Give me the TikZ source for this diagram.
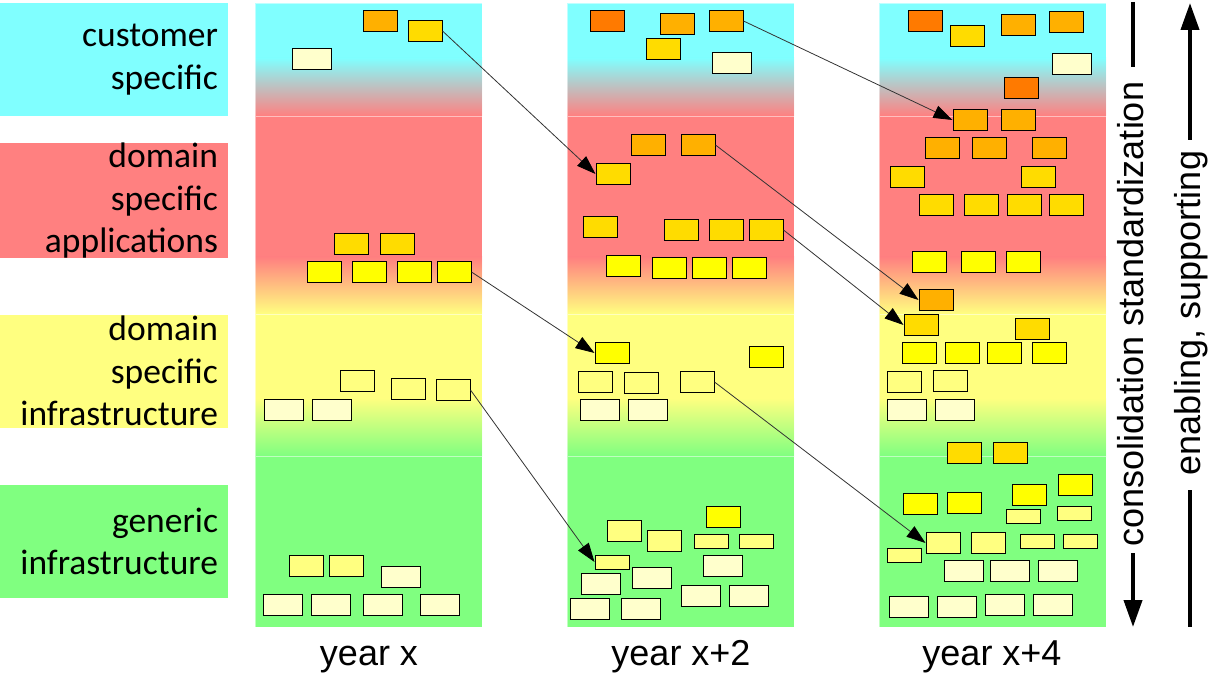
\documentclass[tikz,border=0pt]{standalone}
\usepackage{fontspec}
\setmainfont{Carlito}
\newfontfamily\arialfont{Liberation Sans}
\usepackage{tikz}
\usetikzlibrary{calc,positioning,arrows.meta}
\definecolor{cyanbg}{RGB}{128,255,255}
\definecolor{redbg}{RGB}{255,128,128}
\definecolor{yellowbg}{RGB}{255,255,128}
\definecolor{greenbg}{RGB}{128,255,128}
\definecolor{darkorng}{RGB}{255,122,0}
\definecolor{orng}{RGB}{255,176,0}
\definecolor{goldy}{RGB}{255,220,0}
\definecolor{yell}{RGB}{255,255,0}
\definecolor{lightyell}{RGB}{255,255,128}
\definecolor{paleyell}{RGB}{255,255,204}

\begin{document}
\begin{tikzpicture}[x=1pt,y=-1pt,
		lane/.style={inner xsep=10pt,inner ysep=0pt,text width=208pt,align=right,minimum height=113pt,font=\fontsize{35.5}{42.5}\selectfont},
		app/.style={draw,line width=1pt,inner sep=0pt,minimum width=34pt,minimum height=21pt},
		boxdo/.style={app,fill=darkorng},
		boxor/.style={app,fill=orng},
		boxgd/.style={app,fill=goldy},
		boxye/.style={app,fill=yell},
		boxly/.style={app,fill=lightyell},
		boxsl/.style={app,fill=lightyell,minimum height=14pt},
		boxpl/.style={app,fill=paleyell,minimum width=39pt},
		sep/.style={draw=white,draw opacity=0.5,line width=0.8pt},
		move/.style={draw=black!80,line width=0.8pt,-{Triangle[length=19pt,width=13pt,black]}},
		bar/.style={line width=4pt},
		side/.style={font=\arialfont\fontsize{36}{43}\selectfont,inner sep=0pt}]
	\useasboundingbox (0,0) rectangle (1212,676);
	% layer labels
	\node(cust) [lane,fill=cyanbg] at (114,59.5) {customer\\specific};
	\node(dapp) [lane,fill=redbg] at (114,200.7) {domain\\specific\\applications};
	\node(dinf) [lane,fill=yellowbg] at (114,371) {domain\\specific\\infrastructure};
	\node(ginf) [lane,fill=greenbg] at (114,541.3) {generic\\infrastructure};
	% year columns
	\foreach \cx in {255,567,879}{
		\fill[cyanbg] (\cx,3) rectangle ++(227,56);
		\shade[top color=cyanbg,bottom color=redbg] (\cx,58) rectangle ++(227,58);
		\fill[redbg] (\cx,116) rectangle ++(227,142);
		\shade[top color=redbg,bottom color=yellowbg] (\cx,257) rectangle ++(227,57);
		\fill[yellowbg] (\cx,314) rectangle ++(227,85);
		\shade[top color=yellowbg,bottom color=greenbg] (\cx,398) rectangle ++(227,58);
		\fill[greenbg] (\cx,456) rectangle ++(227,171);
		\draw[sep] (\cx,3) rectangle ++(227,113) (\cx,116) rectangle ++(227,198)
		           (\cx,314) rectangle ++(227,142) (\cx,456) rectangle ++(227,171);
	}
	% year x
	\foreach \s/\x/\y [count=\i] in {boxor/380/21,boxgd/425/31,boxpl/312/59,
			boxgd/351/244,boxgd/397/244,boxye/324/272,boxye/369/272,boxye/414/272,boxye/454/272,
			boxly/357/381,boxly/408/389,boxly/453/390,boxpl/284/410,boxpl/332/410,
			boxly/306/566,boxly/346/566,boxpl/401/577,boxpl/283/605,boxpl/331/605,boxpl/383/605,boxpl/440/605}
		\node(a\i) [\s] at (\x,\y) {};
	% year x+2
	\foreach \s/\x/\y [count=\i] in {boxdo/607/21,boxor/677/24,boxor/726/21,boxgd/663/49,boxpl/732/63,
			boxor/648/145,boxor/698/145,boxgd/613/174,boxgd/600/227,boxgd/681/230,boxgd/726/230,boxgd/766/230,
			boxye/623/266,boxye/669/268,boxye/709/268,boxye/749/268,boxye/612/353,boxye/766/357,
			boxly/595/382,boxly/641/383,boxly/697/382,boxpl/600/410,boxpl/648/410,
			boxye/723/517,boxly/624/531,boxly/664/541,boxsl/711/541,boxsl/756/541,boxsl/612/562,
			boxpl/723/566,boxpl/601/584,boxpl/652/578,boxpl/701/596,boxpl/749/596,boxpl/590/609,boxpl/641/609}
		\node(b\i) [\s] at (\x,\y) {};
	% year x+4
	\foreach \s/\x/\y [count=\i] in {boxdo/925/21,boxgd/967/36,boxor/1018/25,boxor/1066/22,boxpl/1072/64,
			boxdo/1021/88,boxor/970/120,boxor/1018/120,boxor/942/148,boxor/989/148,boxor/1049/148,
			boxgd/907/177,boxgd/1038/177,boxgd/936/205,boxgd/981/205,boxgd/1024/205,boxgd/1066/205,
			boxye/929/262,boxye/978/262,boxye/1023/262,boxor/936/300,boxgd/921/325,boxgd/1032/329,
			boxye/919/353,boxye/962/353,boxye/1004/353,boxye/1049/353,boxly/904/382,boxly/950/381,
			boxpl/907/410,boxpl/955/410,boxgd/964/453,boxgd/1010/453,
			boxye/1075/485,boxye/1029/495,boxye/920/504,boxye/964/503,boxsl/1023/516,boxsl/1074/513,
			boxly/943/543,boxly/988/543,boxsl/1037/541,boxsl/1080/541,boxsl/904/555,
			boxpl/964/571,boxpl/1010/571,boxpl/1058/571,boxpl/909/607,boxpl/957/607,boxpl/1005/605,boxpl/1053/605}
		\node(c\i) [\s] at (\x,\y) {};
	% moves
	\draw[move] (a2.east) -- (b8.west);
	\draw[move] (a9.east) -- (b17.west);
	\draw[move] (a12.east) -- (b29.west);
	\draw[move] (b3.east) -- (c7.west);
	\draw[move] (b7.east) -- (c21.west);
	\draw[move] (b12.east) -- (c22.west);
	\draw[move] (b21.east) -- (c40.west);
	% years
	\node(yx) [side,anchor=base] at (369,665) {year x};
	\node(yx2) [side,anchor=base] at (681,665) {year x+2};
	\node(yx4) [side,anchor=base] at (992,665) {year x+4};
	% direction
	\node(cons) [side,rotate=90,anchor=base] at (1143,314) {consolidation standardization};
	\node(enab) [side,rotate=90,anchor=base] at (1200,313) {enabling, supporting};
	\coordinate (consA) at (1133,2);
	\coordinate (consB) at (1133,67);
	\coordinate (consC) at (1133,553);
	\coordinate (consD) at (1133,627);
	\coordinate (enabA) at (1190,140);
	\coordinate (enabB) at (1190,3);
	\coordinate (enabC) at (1190,490);
	\coordinate (enabD) at (1190,627);
	\draw[bar] (consA) -- (consB);
	\draw[bar,-{Triangle[length=27pt,width=18pt]}] (consC) -- (consD);
	\draw[bar,-{Triangle[length=27pt,width=18pt]}] (enabA) -- (enabB);
	\draw[bar] (enabC) -- (enabD);
\end{tikzpicture}
\end{document}
